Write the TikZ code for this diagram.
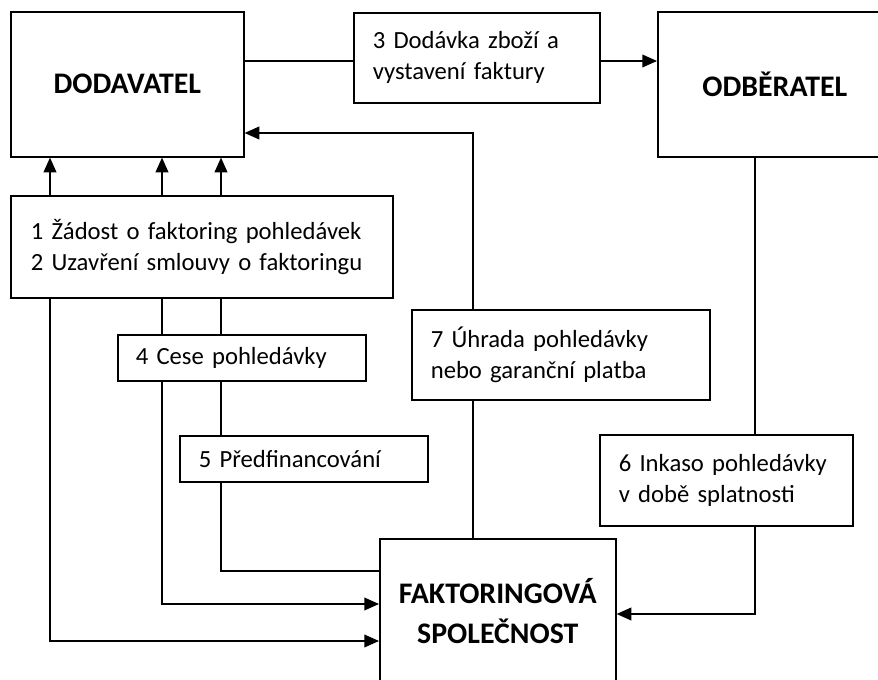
\documentclass[tikz,border=0pt]{standalone}
\usepackage{fontspec}
\setmainfont{Carlito}
\usetikzlibrary{arrows.meta}
\begin{document}
\begin{tikzpicture}[x=0.75pt,y=-0.75pt,
  ln/.style={line width=1.2pt, black},
  arr/.style={ln, -{Triangle[length=11pt,width=9.5pt]}},
  bigbox/.style={draw, ln, rectangle, inner sep=0pt, minimum width=174.75pt, minimum height=108.75pt,
    anchor=north west, align=center, font=\bfseries\fontsize{22.4}{30}\selectfont},
  txtbox/.style={draw, ln, rectangle, inner ysep=0pt, anchor=north west, align=left,
    font=\fontsize{18.5}{23.25}\selectfont},
]
\useasboundingbox (0,0) rectangle (878,680);
\node[bigbox] (D) at (10,11) {DODAVATEL};
\node[bigbox, minimum width=175.5pt] (O) at (657,11) {ODBĚRATEL};
\node[bigbox, minimum width=177pt] (F) at (379,538) {FAKTORINGOVÁ\\SPOLEČNOST};
\node[txtbox, text width=156pt, inner xsep=14.25pt, minimum height=67.5pt] (b3) at (353,12)
  {3 Dodávka zboží a\\vystavení faktury};
\node[txtbox, text width=256.5pt, inner xsep=15pt, minimum height=76.5pt] (b1) at (10,195)
  {1 Žádost o faktoring pohledávek\\2 Uzavření smlouvy o faktoringu};
\node[txtbox, text width=159pt, inner xsep=13.5pt, minimum height=34.5pt] (b4) at (117,334)
  {4 Cese pohledávky};
\node[txtbox, text width=157.5pt, inner xsep=14.25pt, minimum height=34.5pt] (b5) at (179,435)
  {5 Předfinancování};
\node[txtbox, text width=195pt, inner xsep=14.25pt, minimum height=67.5pt] (b7) at (411,309)
  {7 Úhrada pohledávky\\nebo garanční platba};
\node[txtbox, text width=161.25pt, inner xsep=14.25pt, minimum height=68.25pt] (b6) at (599,434)
  {6 Inkaso pohledávky\\v době splatnosti};
% top row
\draw[ln] (D.east |- 0,61) -- (b3.west |- 0,61);
\draw[arr] (b3.east |- 0,61) -- (O.west |- 0,61);
% 7 up to dodavatel
\draw[arr] (b7.north -| 473,0) |- (D.east |- 0,133);
\draw[ln] (F.north -| 473,0) -- (b7.south -| 473,0);
% 1 up to dodavatel
\draw[arr] (b1.north -| 50,0) -- (D.south -| 50,0);
\draw[arr] (b1.north -| 162,0) -- (D.south -| 162,0);
\draw[arr] (b1.north -| 221,0) -- (D.south -| 221,0);
% 1 to 4
\draw[ln] (b1.south -| 162,0) -- (b4.north -| 162,0);
\draw[ln] (b1.south -| 221,0) -- (b4.north -| 221,0);
% down to faktoring
\draw[arr] (b1.south -| 50,0) |- (F.west |- 0,641);
\draw[arr] (b4.south -| 162,0) |- (F.west |- 0,604);
\draw[ln] (b4.south -| 221,0) -- (b5.north -| 221,0);
\draw[ln] (b5.south -| 221,0) |- (F.west |- 0,571);
% odberatel to 6 to faktoring
\draw[ln] (O.south -| 755,0) -- (b6.north -| 755,0);
\draw[arr] (b6.south -| 755,0) |- (F.east |- 0,614);
\end{tikzpicture}
\end{document}
